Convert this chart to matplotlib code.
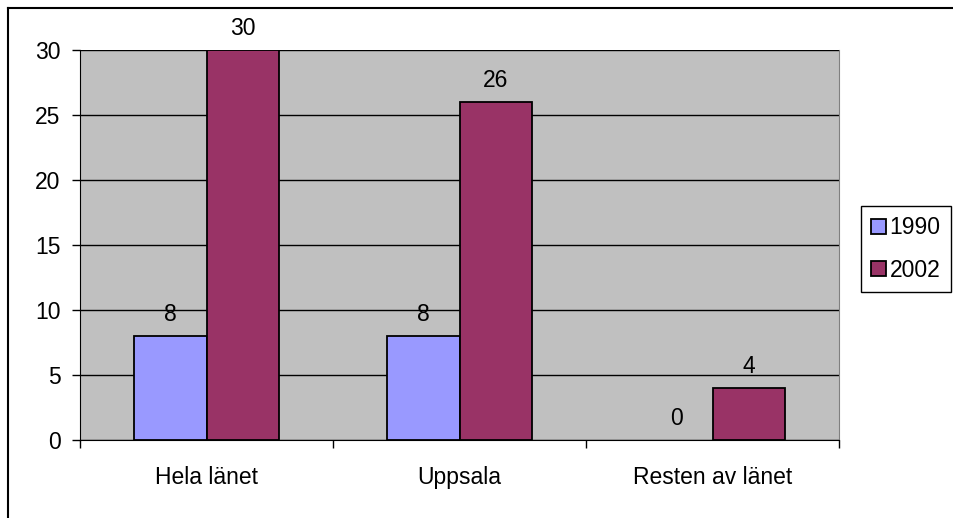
import matplotlib
matplotlib.use('agg')
import matplotlib.pyplot as plt
from matplotlib.lines import Line2D
import numpy as np

categories = ['Hela länet', 'Uppsala', 'Resten av länet']
years = ['1990', '2002']
values_1990 = [8, 8, 0]
values_2002 = [30, 26, 4]
yticks = [0, 5, 10, 15, 20, 25, 30]

plt.rcParams['font.family'] = ['Liberation Sans', 'DejaVu Sans']
FS = 16.5

W, H = 954, 518
fig = plt.figure(figsize=(W / 100, H / 100), dpi=100)
fig.patch.set_facecolor('white')

# outer chart border (only top and left visible in the original crop)
fig.add_artist(Line2D([8 / W, 8 / W], [0, 1 - 8 / H], color='black', lw=1.5))
fig.add_artist(Line2D([8 / W, 1], [1 - 8 / H, 1 - 8 / H], color='black', lw=1.5))

ax = fig.add_axes([80 / W, 78 / H, 759 / W, 390 / H])
ax.set_facecolor('#C0C0C0')

x = np.arange(len(categories))
width = 1 / 3.5
b1 = ax.bar(x - width / 2, values_1990, width, color='#9999FF', edgecolor='black', lw=1.3, label=years[0], zorder=3)
b2 = ax.bar(x + width / 2, values_2002, width, color='#993366', edgecolor='black', lw=1.3, label=years[1], zorder=3)

for bars, vals in ((b1, values_1990), (b2, values_2002)):
    for rect, v in zip(bars, vals):
        # zero-height bars are not drawn in the original
        if v == 0:
            rect.set_visible(False)
        ax.annotate(str(v), (rect.get_x() + rect.get_width() / 2, v),
                    xytext=(0, 7), textcoords='offset points',
                    ha='center', va='bottom', fontsize=FS, zorder=4)

ax.set_xlim(-0.5, len(categories) - 0.5)
ax.set_ylim(0, 30)
ax.set_yticks(yticks)
ax.yaxis.grid(True, color='black', lw=1, zorder=1)
ax.tick_params(axis='y', labelsize=FS, length=6, width=1, pad=8)

ax.set_xticks(x)
ax.set_xticklabels(categories)
ax.set_xticks(np.arange(len(categories) + 1) - 0.5, minor=True)
ax.tick_params(axis='x', which='major', length=0, labelsize=FS, pad=19)
ax.tick_params(axis='x', which='minor', length=6, width=1)

ax.spines['top'].set_visible(False)
ax.spines['right'].set_color('#808080')
ax.spines['left'].set_color('black')
ax.spines['bottom'].set_color('black')

leg = fig.legend(handles=[b1, b2], loc='upper left',
                 bbox_to_anchor=(861 / W, 1 - 206 / H), fontsize=FS,
                 handlelength=0.65, handleheight=0.65, handletextpad=0.15,
                 borderpad=0.45, labelspacing=0.85, fancybox=False,
                 edgecolor='black', framealpha=1, borderaxespad=0)
leg.get_frame().set_linewidth(1)

fig.savefig('out.png', dpi=100)
